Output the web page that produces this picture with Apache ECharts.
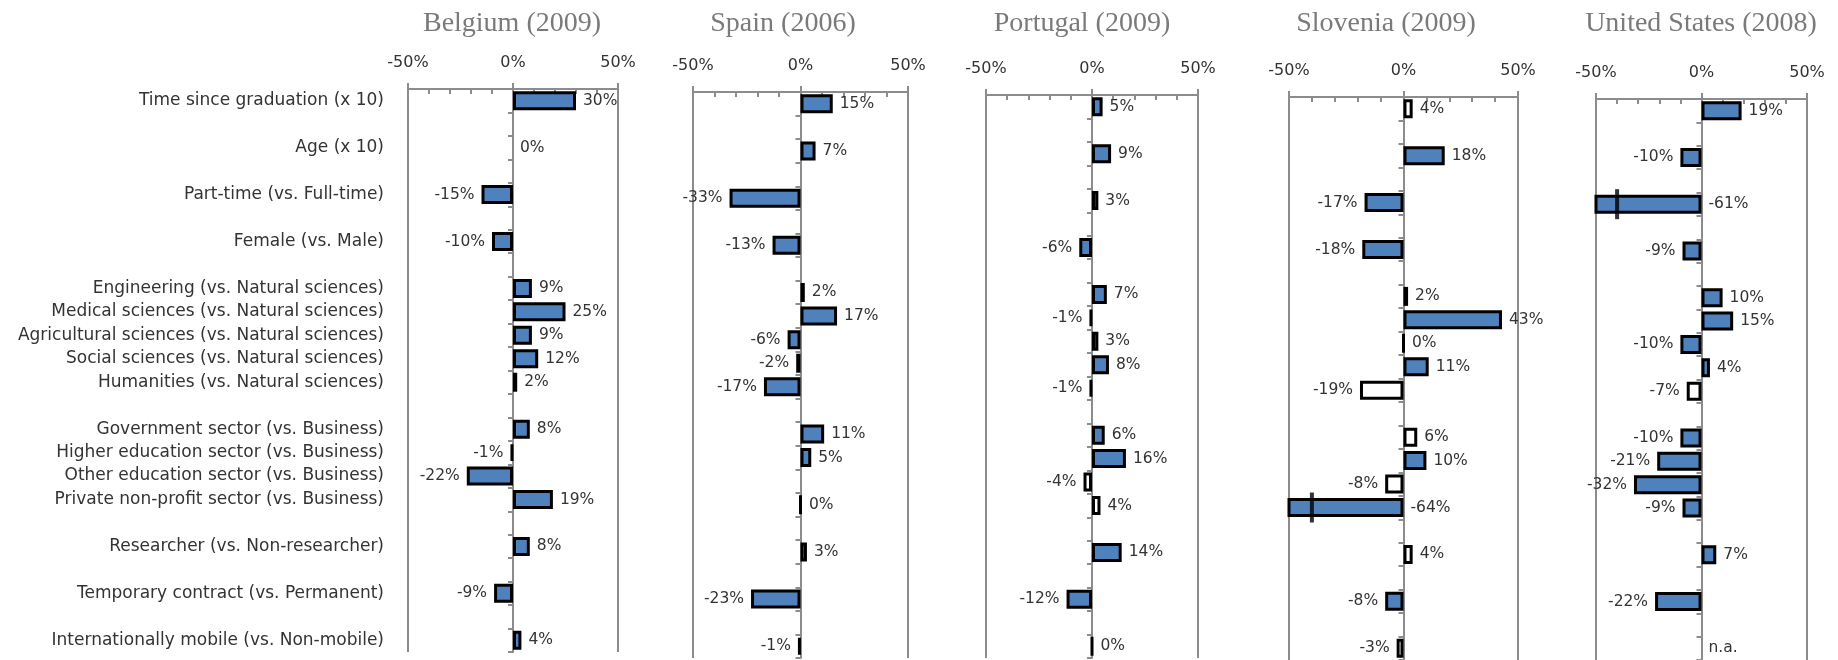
<!DOCTYPE html>
<html><head><meta charset="utf-8">
<script src="https://cdn.jsdelivr.net/npm/echarts@6/dist/echarts.min.js"></script>
<style>html,body{margin:0;padding:0;background:#fff}#c{width:1838px;height:660px}</style>
</head><body><div id="c"></div>
<script>
// ---------------- DATA ----------------
const categories = [
  'Time since graduation (x 10)',
  'Age (x 10)',
  'Part-time (vs. Full-time)',
  'Female (vs. Male)',
  'Engineering (vs. Natural sciences)',
  'Medical sciences (vs. Natural sciences)',
  'Agricultural sciences (vs. Natural sciences)',
  'Social sciences (vs. Natural sciences)',
  'Humanities (vs. Natural sciences)',
  'Government sector (vs. Business)',
  'Higher education sector (vs. Business)',
  'Other education sector (vs. Business)',
  'Private non-profit sector (vs. Business)',
  'Researcher (vs. Non-researcher)',
  'Temporary contract (vs. Permanent)',
  'Internationally mobile (vs. Non-mobile)'
];
// number of categories in each group (a blank row separates groups)
const groupSizes = [1, 1, 1, 1, 5, 4, 1, 1, 1];

const countries = ['Belgium (2009)', 'Spain (2006)', 'Portugal (2009)', 'Slovenia (2009)', 'United States (2008)'];

const belgium  = [30, 0, -15, -10, 9, 25, 9, 12, 2, 8, -1, -22, 19, 8, -9, 4];
const spain    = [15, 7, -33, -13, 2, 17, -6, -2, -17, 11, 5, null, 0, 3, -23, -1];
const portugal = [5, 9, 3, -6, 7, -1, 3, 8, -1, 6, 16, -4, 4, 14, -12, 0];
const slovenia = [4, 18, -17, -18, 2, 43, 0, 11, -19, 6, 10, -8, -64, 4, -8, -3];
const unitedStates = [19, -10, -61, -9, 10, 15, -10, 4, -7, -10, -21, -32, -9, 7, -22, 'n.a.'];

// 1 = significant (filled bar), 0 = not significant (hollow bar)
const belgiumSig  = [1, 1, 1, 1, 1, 1, 1, 1, 0, 1, 0, 1, 1, 1, 1, 1];
const spainSig    = [1, 1, 1, 1, 0, 1, 1, 0, 1, 1, 1, 0, 0, 1, 1, 0];
const portugalSig = [1, 1, 1, 1, 1, 0, 1, 1, 0, 1, 1, 0, 0, 1, 1, 0];
const sloveniaSig = [0, 1, 1, 1, 0, 1, 0, 1, 0, 0, 1, 0, 1, 0, 1, 0];
const unitedStatesSig = [1, 1, 1, 1, 1, 1, 1, 1, 0, 1, 1, 1, 1, 1, 1, 0];

// axis break markers on bars exceeding the axis range
const axisBreaks = [
  { country: 3, category: 'Private non-profit sector (vs. Business)', at: -40 },
  { country: 4, category: 'Part-time (vs. Full-time)', at: -40 }
];

const xRange = [-50, 50]; // min / max of each panel axis

// ---------------- LAYOUT ----------------
const panels = [
  { left: 408,  width: 210, top: 89, height: 563, titleX: 512 },
  { left: 693,  width: 215, top: 92, height: 566, titleX: 783 },
  { left: 986,  width: 212, top: 95, height: 563, titleX: 1082 },
  { left: 1289, width: 229, top: 97, height: 563, titleX: 1386 },
  { left: 1596, width: 211, top: 99, height: 563, titleX: 1701 }
];
const seriesValues = [belgium, spain, portugal, slovenia, unitedStates];
const seriesSig = [belgiumSig, spainSig, portugalSig, sloveniaSig, unitedStatesSig];

// build rows (with blank separator rows)
const rows = [];
const rowIndex = [];
let k = 0;
groupSizes.forEach((n, g) => {
  for (let i = 0; i < n; i++) { rows.push(categories[k]); rowIndex.push(k); k++; }
  if (g < groupSizes.length - 1) { rows.push(' '.repeat(g + 1)); rowIndex.push(-1); }
});

const BLUE = '#4F81BD';
const GRAY = '#8c8c8c';
const TXT = '#333333';
const FONT = 'DejaVu Sans';

function makeItem(v, sig) {
  if (v === null || v === undefined) return '-';
  if (v === 'n.a.') {
    return { value: 0, itemStyle: { color: 'transparent', borderWidth: 0 },
      label: { show: true, position: 'right', formatter: 'n.a.' } };
  }
  const clipped = v < xRange[0];
  return {
    value: v,
    itemStyle: { color: sig ? BLUE : '#ffffff', borderColor: '#000', borderWidth: (v === 0 && sig) ? 0 : 3 },
    label: { show: true, position: (v < 0 && !clipped) ? 'left' : 'right', formatter: v + '%' }
  };
}

const grid = [], xAxis = [], yAxis = [], series = [], graphic = [];
panels.forEach((p, i) => {
  grid.push({ left: p.left, top: p.top, width: p.width, height: p.height, containLabel: false });
  xAxis.push({
    gridIndex: i, type: 'value', position: 'top', min: xRange[0], max: xRange[1], interval: 50,
    axisLine: { show: true, lineStyle: { color: GRAY, width: 2 } },
    axisTick: { show: true, length: 6, lineStyle: { color: GRAY, width: 2 } },
    axisLabel: { formatter: v => v + '%', fontSize: 16, color: TXT, margin: 18, fontFamily: FONT },
    splitLine: { show: true, lineStyle: { color: GRAY, width: 2 } }
  });
  xAxis.push({
    gridIndex: i, type: 'value', position: 'top', min: xRange[0], max: xRange[1], interval: 10,
    axisLine: { show: false }, axisLabel: { show: false }, splitLine: { show: false },
    axisTick: { show: true, inside: true, length: 5, lineStyle: { color: GRAY, width: 2 } }
  });
  const yMain = yAxis.length;
  yAxis.push({
    gridIndex: i, type: 'category', inverse: true, data: rows,
    axisLine: { show: true, onZero: true, lineStyle: { color: GRAY, width: 2 } },
    axisTick: { show: true, length: 5, lineStyle: { color: GRAY, width: 2 } },
    axisLabel: { show: false }, splitLine: { show: false }
  });
  if (i === 0) {
    yAxis.push({
      gridIndex: 0, type: 'category', inverse: true, data: rows, position: 'left',
      axisLine: { show: false, onZero: false }, axisTick: { show: false },
      axisLabel: { show: true, fontSize: 17, color: TXT, margin: 24, fontFamily: FONT, interval: 0 }
    });
  }
  const vals = seriesValues[i], sig = seriesSig[i];
  series.push({
    type: 'bar', xAxisIndex: 2 * i, yAxisIndex: yMain, barWidth: 19,
    data: rowIndex.map(r => r < 0 ? '-' : makeItem(vals[r], sig[r])),
    label: { show: true, fontSize: 15.5, color: TXT, distance: 7, fontFamily: FONT },
    animation: false, z: 2
  });
  const brks = axisBreaks.filter(b => b.country === i);
  if (brks.length) {
    series.push({
      type: 'scatter', xAxisIndex: 2 * i, yAxisIndex: yMain, symbol: 'rect', symbolSize: [4, 30],
      itemStyle: { color: '#000' }, z: 5, animation: false,
      data: brks.map(b => [b.at, rows.indexOf(b.category)])
    });
  }
  graphic.push({
    type: 'text', x: p.titleX, y: 24,
    style: { text: countries[i], align: 'center', verticalAlign: 'middle',
      font: '28px "Liberation Serif"', fill: '#7a7a7a' }
  });
});

const chart = echarts.init(document.getElementById('c'), null, { renderer: 'canvas' });
chart.setOption({
  backgroundColor: '#fff',
  animation: false,
  textStyle: { fontFamily: FONT },
  grid, xAxis, yAxis, series, graphic
});
</script>
</body></html>
